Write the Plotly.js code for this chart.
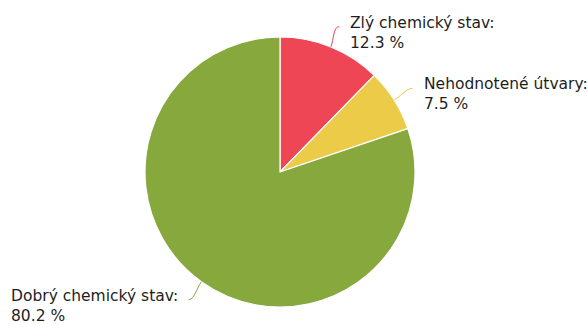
<!DOCTYPE html>
<html>
<head>
<meta charset="utf-8">
<script src="https://cdn.plot.ly/plotly-3.0.1.min.js"></script>
<style>
  html, body { margin: 0; padding: 0; background: #ffffff; }
  #chart { width: 588px; height: 324px; }
</style>
</head>
<body>
<div id="chart"></div>
<script>
// Chemický stav útvarov – podiel v percentách
const categories = ['Zlý chemický stav', 'Nehodnotené útvary', 'Dobrý chemický stav'];
const shares = [12.3, 7.5, 80.2];
const sliceColors = ['#ef4655', '#eccb48', '#86a83d'];

const W = 588, H = 324;
const cx = 280, cy = 172, r = 135;    // pie centre and radius in pixels
const labelDist = 22;                  // gap between rim and label anchor
const textPad = 9;                     // gap between connector end and text
const font = 'DejaVu Sans, Verdana, sans-serif';

const pie = {
  type: 'pie',
  labels: categories,
  values: shares,
  sort: false,
  direction: 'clockwise',
  rotation: 0,
  textinfo: 'none',
  hoverinfo: 'label+percent',
  marker: { colors: sliceColors, line: { color: '#ffffff', width: 1.2 } },
  domain: {
    x: [(cx - r) / W, (cx + r) / W],
    y: [(H - cy - r) / H, (H - cy + r) / H]
  },
  showlegend: false
};

// Data labels with soft connectors, placed at each slice's mid angle
const total = shares.reduce((a, b) => a + b, 0);
const shapes = [];
const annotations = [];
let acc = 0;
shares.forEach((v, i) => {
  const mid = (acc + v / 2) / total * 2 * Math.PI;   // clockwise from 12 o'clock
  acc += v;
  const s = Math.sin(mid), c = Math.cos(mid);
  const side = s >= 0 ? 1 : -1;
  const E = [cx + r * s, cy - r * c];
  const K = [cx + (r + 8) * s, cy - (r + 8) * c];
  const A = [cx + (r + labelDist) * s, cy - (r + labelDist) * c];
  shapes.push({
    type: 'path', xref: 'x', yref: 'y',
    path: `M ${E[0]} ${E[1]} C ${K[0]} ${K[1]}, ${A[0] - 6 * side} ${A[1]}, ${A[0]} ${A[1]}`,
    line: { color: sliceColors[i], width: 1 }
  });
  annotations.push({
    xref: 'x', yref: 'y',
    x: A[0] + textPad * side, y: A[1],
    xanchor: side > 0 ? 'left' : 'right',
    yanchor: 'middle', yshift: -6,
    align: 'left',
    showarrow: false,
    text: `${categories[i]}:<br>${v.toFixed(1)} %`,
    font: { family: font, size: 15.5, color: '#1e1e1e' }
  });
});

const layout = {
  width: W, height: H,
  margin: { l: 0, r: 0, t: 0, b: 0 },
  paper_bgcolor: '#ffffff',
  plot_bgcolor: 'rgba(0,0,0,0)',
  xaxis: { range: [0, W], visible: false, fixedrange: true },
  yaxis: { range: [H, 0], visible: false, fixedrange: true },
  shapes: shapes,
  annotations: annotations,
  font: { family: font }
};

Plotly.newPlot('chart', [pie], layout, { displayModeBar: false, staticPlot: true });
</script>
</body>
</html>
